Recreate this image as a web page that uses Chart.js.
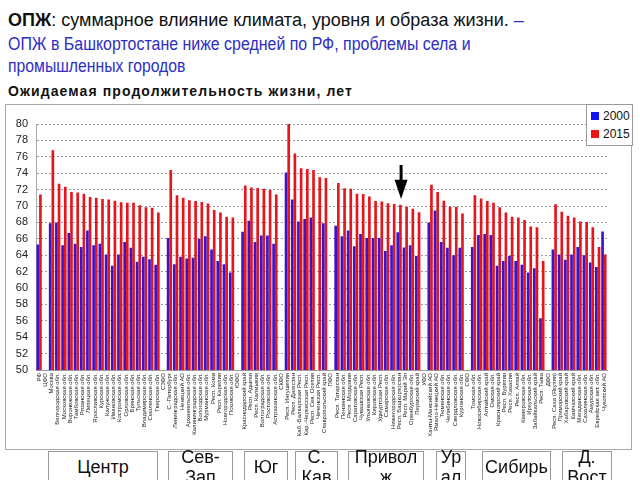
<!DOCTYPE html>
<html><head><meta charset="utf-8">
<script src="https://cdn.jsdelivr.net/npm/chart.js@4/dist/chart.umd.min.js"></script>
<style>
body{margin:0;width:640px;height:480px;overflow:hidden;background:#fff;font-family:"Liberation Sans",Arial,sans-serif;position:relative}
.t{position:absolute;left:8px;white-space:nowrap;line-height:20px}
#l1{top:10px;font-size:18px;color:#111}
#l1 b{font-weight:bold}
#l2{top:34px;font-size:18px;color:#2e2ec4;transform:scaleX(0.885);transform-origin:0 0}
#l3{top:56px;font-size:18px;color:#2e2ec4;transform:scaleX(0.875);transform-origin:0 0}
#l4{top:83px;font-size:14px;font-weight:bold;color:#111;line-height:16px;letter-spacing:1.1px}
#box{position:absolute;left:5px;top:104px;width:627px;height:346px;border:1px solid #aaa;box-sizing:border-box}
#cv{position:absolute;left:5px;top:104px}
#legend{position:absolute;left:586px;top:104px;width:47px;height:42px;border:1px solid #999;background:#fff;box-sizing:border-box;font-size:12px;color:#111}
.li{position:absolute;left:4px;height:14px;line-height:14px;white-space:nowrap}
.sw{display:inline-block;width:8px;height:8px;margin-right:4px;vertical-align:0px}
.reg{position:absolute;top:451px;height:32px;border:1px solid #999;box-sizing:border-box;display:flex;align-items:center;justify-content:center;text-align:center;font-size:18px;line-height:20px;color:#111;background:#fff}
</style></head>
<body>
<div class="t" id="l1"><b>ОПЖ</b>: суммарное влияние климата, уровня и образа жизни. <span style="color:#2e2ec4">–</span></div>
<div class="t" id="l2">ОПЖ в Башкортостане ниже средней по РФ, проблемы села и</div>
<div class="t" id="l3">промышленных городов</div>
<div class="t" id="l4">Ожидаемая продолжительность жизни, лет</div>
<div id="box"></div>
<canvas id="cv" width="627" height="346"></canvas>
<div id="legend">
  <div class="li" style="top:4px"><span class="sw" style="background:#1414ee"></span>2000</div>
  <div class="li" style="top:22px"><span class="sw" style="background:#ee1414"></span>2015</div>
</div>
<div class="reg" style="left:48px;width:110px">Центр</div>
<div class="reg" style="left:168px;width:65px">Сев-<br>Зап</div>
<div class="reg" style="left:244px;width:44px">Юг</div>
<div class="reg" style="left:295px;width:43px">С.<br>Кав</div>
<div class="reg" style="left:348px;width:76px">Привол<br>ж</div>
<div class="reg" style="left:436px;width:30px">Ур<br>ал</div>
<div class="reg" style="left:482px;width:69px">Сибирь</div>
<div class="reg" style="left:562px;width:50px">Д.<br>Вост</div>
<script>
const regions = [
 "РФ","ЦФО",
 "Москва","Белгородская обл.","Московская обл.","Воронежская обл.","Тамбовская обл.","Рязанская обл.","Липецкая обл.","Ярославская обл.","Курская обл.","Калужская обл.","Ивановская обл.","Костромская обл.","Орловская обл.","Брянская обл.","Тульская обл.","Владимирская обл.","Смоленская обл.","Тверская обл.",
 "СЗФО",
 "С.-Петербург","Ленинградская обл.","Ненецкий АО","Архангельская обл.","Калининградская обл.","Вологодская обл.","Мурманская обл.","Респ. Коми","Респ. Карелия","Новгородская обл.","Псковская обл.",
 "ЮФО",
 "Краснодарский край","Респ. Адыгея","Респ. Калмыкия","Волгоградская обл.","Ростовская обл.","Астраханская обл.",
 "СКФО",
 "Респ. Ингушетия","Респ. Дагестан","Каб.-Балкарская Респ.","Кар.-Черкесская Респ.","Респ. Сев. Осетия","Чеченская Респ.","Ставропольский край",
 "ПФО",
 "Респ. Татарстан","Пензенская обл.","Респ. Мордовия","Саратовская обл.","Чувашская Респ.","Ульяновская обл.","Кировская обл.","Удмуртская Респ.","Самарская обл.","Нижегородская обл.","Респ. Башкортостан","Респ. Марий Эл","Оренбургская обл.","Пермский край",
 "УФО",
 "Ханты-Мансийский АО","Ямало-Ненецкий АО","Тюменская обл.","Челябинская обл.","Свердловская обл.","Курганская обл.",
 "СФО",
 "Томская обл.","Новосибирская обл.","Алтайский край","Омская обл.","Красноярский край","Респ. Бурятия","Респ. Хакасия","Респ. Алтай","Кемеровская обл.","Иркутская обл.","Забайкальский край","Респ. Тыва",
 "ДФО",
 "Респ. Саха (Якутия)","Приморский край","Хабаровский край","Камчатский край","Магаданская обл.","Сахалинская обл.","Амурская обл.","Еврейская авт. обл.","Чукотский АО"
];
const life2000 = [
 65.3, null,
 67.9,68.0,65.2,66.7,65.4,65.0,67.0,65.2,65.4,64.1,62.7,64.1,65.6,64.9,63.2,63.8,63.5,62.85,
 null,
 66.1,62.9,63.8,63.6,63.7,66.0,66.3,64.7,63.3,62.9,61.9,
 null,
 66.85,68.2,65.6,66.4,66.4,65.4,
 null,
 74.1,70.8,68.1,68.4,68.6,null,67.9,
 null,
 67.6,66.3,67.0,65.1,66.6,66.1,66.1,66.1,64.5,65.2,66.8,64.95,65.2,63.9,
 null,
 68.0,69.45,65.6,64.9,64.0,64.9,
 null,
 65.0,66.45,66.6,66.45,62.7,63.3,63.9,63.3,62.85,61.9,62.4,56.3,
 null,
 64.7,64.1,63.45,64.1,65.0,64.0,63.1,62.55,66.9
];
const life2015 = [
 71.4, null,
 76.8,72.7,72.35,71.7,71.65,71.5,71.1,71.0,70.85,70.8,70.65,70.45,70.4,70.4,70.1,69.85,69.8,69.2,
 null,
 74.4,71.3,71.0,70.7,70.6,70.5,70.3,69.5,69.2,68.7,68.6,
 null,
 72.5,72.25,72.2,72.1,71.95,71.4,
 null,
 80.2,76.4,74.6,74.5,74.4,73.5,73.4,
 null,
 72.8,72.15,72.1,71.5,71.45,71.15,70.6,70.55,70.35,70.25,70.15,69.9,69.65,69.25,
 null,
 72.6,71.7,70.65,69.9,69.9,69.1,
 null,
 71.3,70.9,70.6,70.4,69.85,69.2,68.7,68.6,68.3,67.5,67.4,63.3,
 null,
 70.2,69.3,68.8,68.6,68.1,68.05,67.4,65.0,64.1
];
const seriesNames = ["2000","2015"];
const markedRegion = "Респ. Башкортостан";
const FONT = '"Liberation Sans", Arial, sans-serif';

const arrowPlugin = {
  id:'arrow',
  afterDatasetsDraw(chart){
    const ctx = chart.ctx, xs = chart.scales.x, ys = chart.scales.y;
    const x = xs.getPixelForValue(regions.indexOf(markedRegion)) + 2;
    const yTop = ys.getPixelForValue(75.0), yBase = ys.getPixelForValue(73.2), yTip = ys.getPixelForValue(70.85);
    ctx.save();
    ctx.fillStyle = '#000';
    ctx.fillRect(x-1.5, yTop, 3, yBase-yTop+1);
    ctx.beginPath();
    ctx.moveTo(x-6.5, yBase); ctx.lineTo(x+6.5, yBase); ctx.lineTo(x, yTip); ctx.closePath();
    ctx.fill();
    ctx.restore();
  }
};

new Chart(document.getElementById('cv'), {
  type:'bar',
  data:{
    labels: regions,
    datasets:[
      {label:seriesNames[0], data:life2000, backgroundColor:'#3c14c8', categoryPercentage:0.86, barPercentage:1.0},
      {label:seriesNames[1], data:life2015, backgroundColor:'#e3171d', categoryPercentage:0.86, barPercentage:1.0}
    ]
  },
  options:{
    responsive:false, animation:false, devicePixelRatio:1,
    layout:{padding:{top:20,right:25,left:0,bottom:0}},
    plugins:{legend:{display:false}, tooltip:{enabled:false}},
    scales:{
      x:{
        offset:true,
        grid:{display:false, drawTicks:false},
        border:{display:true, color:'#999'},
        ticks:{autoSkip:false, maxRotation:90, minRotation:90, padding:3, color:'#222', font:{size:6, family:FONT}},
        afterFit(s){ s.height = 80; }
      },
      y:{
        min:50, max:80,
        grid:{color:'#9a9a9a', drawTicks:false},
        border:{display:true, color:'#aaa', dash:[2,2]},
        ticks:{stepSize:2, padding:8, color:'#222', font:{size:11, family:FONT}},
        afterFit(s){ s.width = 31; }
      }
    }
  },
  plugins:[arrowPlugin]
});
</script>
</body></html>
